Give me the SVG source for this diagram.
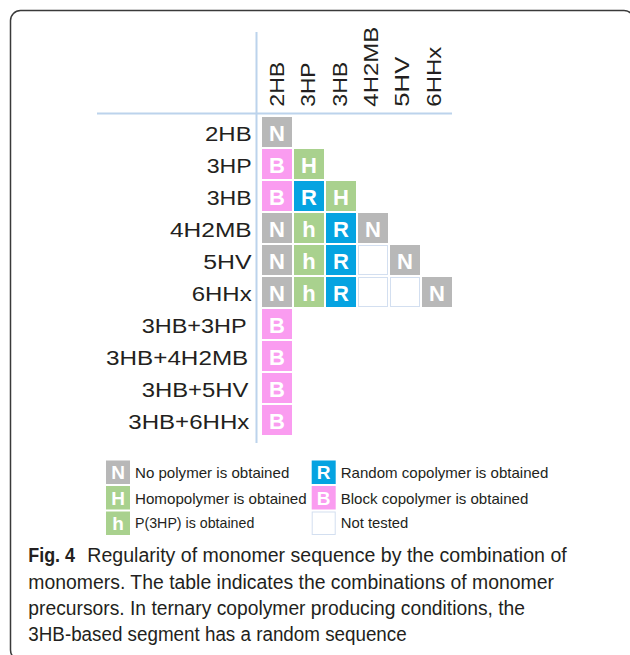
<svg xmlns="http://www.w3.org/2000/svg" width="630" height="655" viewBox="0 0 630 655">
<style>
.lbl{font-family:"Liberation Sans",Arial,sans-serif;font-size:20px;fill:#231f20}
.hdr{font-family:"Liberation Sans",Arial,sans-serif;font-size:21px;fill:#231f20}
.cl{font-family:"Liberation Sans",Arial,sans-serif;font-size:22px;font-weight:bold;fill:#ffffff;text-anchor:middle}
.lg{font-family:"Liberation Sans",Arial,sans-serif;font-size:19px;font-weight:bold;fill:#ffffff;text-anchor:middle}
.lt{font-family:"Liberation Sans",Arial,sans-serif;font-size:15px;fill:#231f20}
.cap{font-family:"Liberation Sans",Arial,sans-serif;font-size:20px;fill:#231f20}
.N{fill:#b8b8b8}.H{fill:#a9d18e}.R{fill:#05a3e1}.B{fill:#fa9cf0}
.E{fill:#ffffff;stroke:#d3dff0;stroke-width:1}
.ax{stroke:#bcd3ec;stroke-width:2;fill:none}
</style>
<rect id="frame" x="10.5" y="10.5" width="623.5" height="649.5" rx="10" ry="10" fill="none" stroke="#3a3a3a" stroke-width="1.5"/>
<g id="axes">
<line class="ax" x1="256.5" y1="32" x2="256.5" y2="443"/>
<line class="ax" x1="97" y1="113.5" x2="452" y2="113.5"/>
</g>
<g id="column-headers">
<text class="hdr" transform="translate(283.5,106.7) rotate(-90)" textLength="45" lengthAdjust="spacingAndGlyphs">2HB</text>
<text class="hdr" transform="translate(315,106.7) rotate(-90)" textLength="44" lengthAdjust="spacingAndGlyphs">3HP</text>
<text class="hdr" transform="translate(347,106.7) rotate(-90)" textLength="45" lengthAdjust="spacingAndGlyphs">3HB</text>
<text class="hdr" transform="translate(377.5,106.7) rotate(-90)" textLength="80" lengthAdjust="spacingAndGlyphs">4H2MB</text>
<text class="hdr" transform="translate(408.5,106.7) rotate(-90)" textLength="50" lengthAdjust="spacingAndGlyphs">5HV</text>
<text class="hdr" transform="translate(440.5,106.7) rotate(-90)" textLength="60" lengthAdjust="spacingAndGlyphs">6HHx</text>
</g>
<g id="row-labels">
<text class="lbl" x="205" y="141" textLength="46.7" lengthAdjust="spacingAndGlyphs">2HB</text>
<text class="lbl" x="206.7" y="173" textLength="45" lengthAdjust="spacingAndGlyphs">3HP</text>
<text class="lbl" x="206.7" y="205" textLength="45" lengthAdjust="spacingAndGlyphs">3HB</text>
<text class="lbl" x="170" y="237" textLength="81.7" lengthAdjust="spacingAndGlyphs">4H2MB</text>
<text class="lbl" x="203.3" y="269" textLength="48.3" lengthAdjust="spacingAndGlyphs">5HV</text>
<text class="lbl" x="191.7" y="301" textLength="60" lengthAdjust="spacingAndGlyphs">6HHx</text>
<text class="lbl" x="141.7" y="333" textLength="105" lengthAdjust="spacingAndGlyphs">3HB+3HP</text>
<text class="lbl" x="106" y="365" textLength="142.3" lengthAdjust="spacingAndGlyphs">3HB+4H2MB</text>
<text class="lbl" x="141.7" y="397" textLength="106.7" lengthAdjust="spacingAndGlyphs">3HB+5HV</text>
<text class="lbl" x="128.3" y="429" textLength="121" lengthAdjust="spacingAndGlyphs">3HB+6HHx</text>
</g>
<g id="cells">
<g id="r2HB"><rect class="N" x="262" y="117" width="30" height="30"/><text class="cl" x="277" y="141">N</text></g>
<g id="r3HP">
<rect class="B" x="262" y="149" width="30" height="30"/><text class="cl" x="277" y="173">B</text>
<rect class="H" x="294" y="149" width="30" height="30"/><text class="cl" x="309" y="173">H</text>
</g>
<g id="r3HB">
<rect class="B" x="262" y="181" width="30" height="30"/><text class="cl" x="277" y="205">B</text>
<rect class="R" x="294" y="181" width="30" height="30"/><text class="cl" x="309" y="205">R</text>
<rect class="H" x="326" y="181" width="30" height="30"/><text class="cl" x="341" y="205">H</text>
</g>
<g id="r4H2MB">
<rect class="N" x="262" y="213" width="30" height="30"/><text class="cl" x="277" y="237">N</text>
<rect class="H" x="294" y="213" width="30" height="30"/><text class="cl" x="309" y="237">h</text>
<rect class="R" x="326" y="213" width="30" height="30"/><text class="cl" x="341" y="237">R</text>
<rect class="N" x="358" y="213" width="30" height="30"/><text class="cl" x="373" y="237">N</text>
</g>
<g id="r5HV">
<rect class="N" x="262" y="245" width="30" height="30"/><text class="cl" x="277" y="269">N</text>
<rect class="H" x="294" y="245" width="30" height="30"/><text class="cl" x="309" y="269">h</text>
<rect class="R" x="326" y="245" width="30" height="30"/><text class="cl" x="341" y="269">R</text>
<rect class="E" x="358.5" y="245.5" width="29" height="29"/>
<rect class="N" x="390" y="245" width="30" height="30"/><text class="cl" x="405" y="269">N</text>
</g>
<g id="r6HHx">
<rect class="N" x="262" y="277" width="30" height="30"/><text class="cl" x="277" y="301">N</text>
<rect class="H" x="294" y="277" width="30" height="30"/><text class="cl" x="309" y="301">h</text>
<rect class="R" x="326" y="277" width="30" height="30"/><text class="cl" x="341" y="301">R</text>
<rect class="E" x="358.5" y="277.5" width="29" height="29"/>
<rect class="E" x="390.5" y="277.5" width="29" height="29"/>
<rect class="N" x="422" y="277" width="30" height="30"/><text class="cl" x="437" y="301">N</text>
</g>
<g id="r3HB3HP"><rect class="B" x="262" y="309" width="30" height="30"/><text class="cl" x="277" y="333">B</text></g>
<g id="r3HB4H2MB"><rect class="B" x="262" y="341" width="30" height="30"/><text class="cl" x="277" y="365">B</text></g>
<g id="r3HB5HV"><rect class="B" x="262" y="373" width="30" height="30"/><text class="cl" x="277" y="397">B</text></g>
<g id="r3HB6HHx"><rect class="B" x="262" y="405" width="30" height="30"/><text class="cl" x="277" y="429">B</text></g>
</g>
<g id="legend">
<rect class="N" x="106" y="460.5" width="24" height="23.5"/><text class="lg" x="118" y="479">N</text>
<text class="lt" x="135" y="478.3" textLength="154.3" lengthAdjust="spacingAndGlyphs">No polymer is obtained</text>
<rect class="H" x="106" y="486" width="24" height="23.5"/><text class="lg" x="118" y="504.5">H</text>
<text class="lt" x="135" y="504" textLength="171.7" lengthAdjust="spacingAndGlyphs">Homopolymer is obtained</text>
<rect class="H" x="106" y="511.5" width="24" height="23.5"/><text class="lg" x="118" y="530">h</text>
<text class="lt" x="135" y="527.7" textLength="119.3" lengthAdjust="spacingAndGlyphs">P(3HP) is obtained</text>
<rect class="R" x="311.7" y="460.5" width="24" height="23.5"/><text class="lg" x="323.7" y="479">R</text>
<text class="lt" x="340.7" y="478.3" textLength="207.6" lengthAdjust="spacingAndGlyphs">Random copolymer is obtained</text>
<rect class="B" x="311.7" y="486" width="24" height="23.5"/><text class="lg" x="323.7" y="504.5">B</text>
<text class="lt" x="340.7" y="504" textLength="187.6" lengthAdjust="spacingAndGlyphs">Block copolymer is obtained</text>
<rect class="E" x="312.2" y="512" width="23" height="22.5"/>
<text class="lt" x="340.7" y="527.7" textLength="67.6" lengthAdjust="spacingAndGlyphs">Not tested</text>
</g>
<g id="caption">
<text class="cap" x="28.3" y="562.3" font-weight="bold" textLength="46.7" lengthAdjust="spacingAndGlyphs">Fig. 4</text>
<text class="cap" x="87.3" y="562.3" textLength="479.4" lengthAdjust="spacingAndGlyphs">Regularity of monomer sequence by the combination of</text>
<text class="cap" x="28.3" y="588.8" textLength="525.7" lengthAdjust="spacingAndGlyphs">monomers. The table indicates the combinations of monomer</text>
<text class="cap" x="28.3" y="615" textLength="496.7" lengthAdjust="spacingAndGlyphs">precursors. In ternary copolymer producing conditions, the</text>
<text class="cap" x="28.3" y="641.2" textLength="378.4" lengthAdjust="spacingAndGlyphs">3HB-based segment has a random sequence</text>
</g>
</svg>
